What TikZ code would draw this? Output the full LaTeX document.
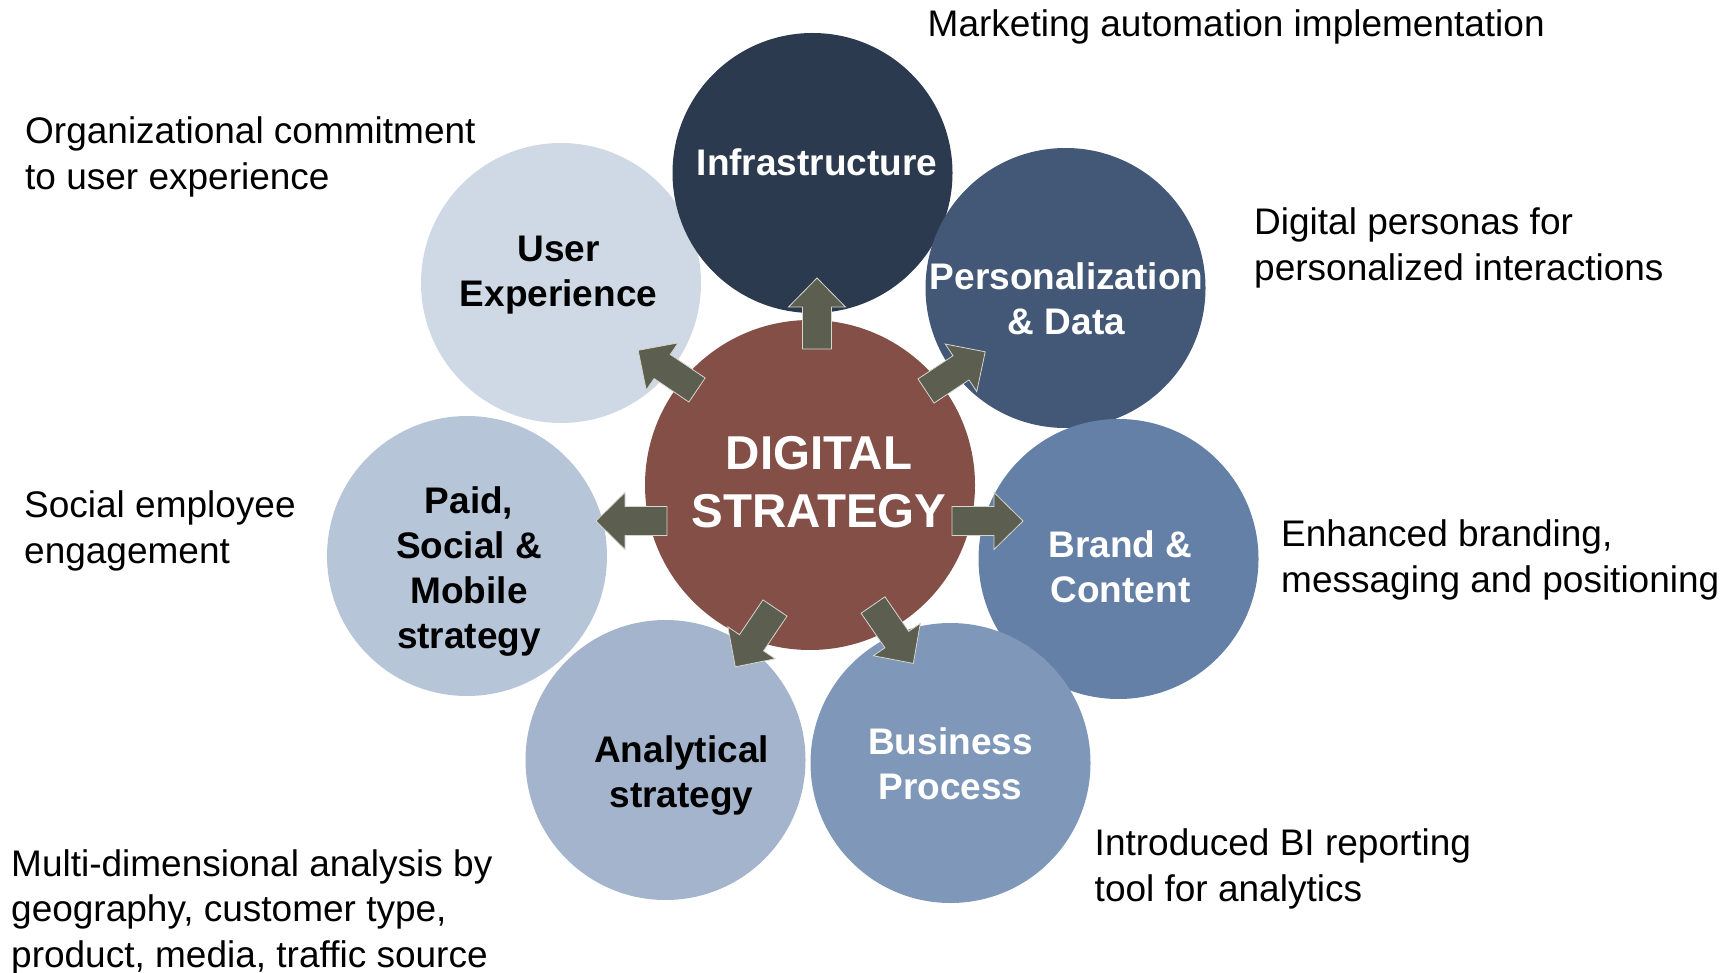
\documentclass[tikz,border=0pt]{standalone}
\usepackage{fontspec}
\setmainfont{Liberation Sans}
\definecolor{uxcol}{HTML}{CFD9E5}
\definecolor{infracol}{HTML}{2C3A4F}
\definecolor{perscol}{HTML}{435877}
\definecolor{brandcol}{HTML}{6580A7}
\definecolor{busicol}{HTML}{7F98B9}
\definecolor{analcol}{HTML}{A3B4CC}
\definecolor{paidcol}{HTML}{B7C5D8}
\definecolor{hubcol}{HTML}{834F46}
\definecolor{arrowcol}{HTML}{5C5E4F}
\definecolor{arrowedge}{HTML}{D6D6CF}
\begin{document}
\begin{tikzpicture}[x=1pt,y=-1pt,
    bubble/.style={circle,minimum size=280pt,inner sep=0pt},
    tag/.style={align=center,inner sep=0pt,font=\fontsize{37}{45}\selectfont\bfseries},
    note/.style={anchor=west,align=left,inner sep=0pt,
      font=\fontsize{37}{45.5}\selectfont},
    blockarrow/.style={fill=arrowcol,draw=arrowedge,line width=0.8pt}]
  \useasboundingbox (0,0) rectangle (1736,973);
  % outer circles, clockwise
  \draw
    (561,283) node[bubble,fill=uxcol] (ux){}
    (812.5,173) node[bubble,fill=infracol] (infra){}
    (1065.5,288) node[bubble,fill=perscol] (pers){}
    (1118.5,559) node[bubble,fill=brandcol] (brand){}
    (950.5,763) node[bubble,fill=busicol] (busi){}
    (665.5,760) node[bubble,fill=analcol] (anal){}
    (467,556) node[bubble,fill=paidcol] (paid){};
  % circle texts
  \draw
    (558.5,275) node[tag] (uxtext){User\\Experience}
    (817,162) node[tag,text=white] (infratext){Infrastructure}
    (1066.5,299) node[tag,text=white] (perstext){Personalization\\\& Data}
    (1120.5,567) node[tag,text=white] (brandtext){Brand \&\\Content}
    (950.5,764) node[tag,text=white] (busitext){Business\\Process}
    (681.5,776) node[tag] (analtext){Analytical\\strategy}
    (469,572) node[tag] (paidtext){Paid,\\Social \&\\Mobile\\strategy};
  % hub
  \draw (810,485) node[circle,minimum size=330pt,inner sep=0pt,fill=hubcol] (hub){};
  \draw (819,482) node[align=center,inner sep=0pt,text=white,
    font=\fontsize{47.5}{57.5}\selectfont\bfseries] (hubtext){DIGITAL\\STRATEGY};
  % arrows out of the hub
  \foreach \bx/\by/\ang in {817/349/90, 697/390/146, 926/391/33.5, 667/521/180,
      952/521/0, 775/608/236, 873/605/304.6}
    \draw[blockarrow,shift={(\bx,\by)},rotate=\ang]
      (0,-14.5) -- (42,-14.5) -- (42,-28.5) -- (71,0) -- (42,28.5) -- (42,14.5) -- (0,14.5) -- cycle;
  % notes
  \draw
    (927.5,27) node[note] (n1){Marketing automation implementation}
    (25,157) node[note] (n2){Organizational commitment\\to user experience}
    (1254,248) node[note] (n3){Digital personas for\\personalized interactions}
    (24,531) node[note] (n4){Social employee\\engagement}
    (1281,560) node[note] (n5){Enhanced branding,\\messaging and positioning}
    (1094.5,869) node[note] (n6){Introduced BI reporting\\tool for analytics}
    (11,912) node[note] (n7){Multi-dimensional analysis by\\geography, customer type,\\product, media, traffic source};
\end{tikzpicture}
\end{document}
